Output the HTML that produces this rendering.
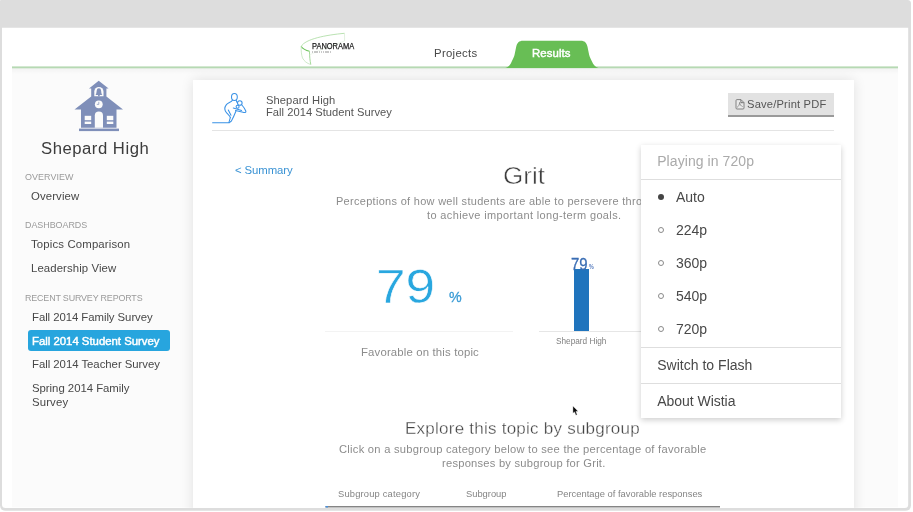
<!DOCTYPE html>
<html><head><meta charset="utf-8"><title>Panorama</title>
<style>
html,body{margin:0;padding:0;background:#fff;}
body{width:913px;height:512px;overflow:hidden;position:relative;font-family:"Liberation Sans",sans-serif;}
.abs{position:absolute;}
.t{position:absolute;white-space:nowrap;font-family:"Liberation Sans",sans-serif;}
#frame{left:0;top:0;width:910px;height:510px;background:#dcdcdc;border-radius:5px 7px 6px 6px;}
#inner{left:2px;top:28px;width:906px;height:480px;background:#fff;border-radius:0 0 4px 4px;overflow:hidden;}
#page{left:12px;top:68px;width:886px;height:440px;background:#fbfbfb;}
#greenline{left:12px;top:66px;width:886px;height:2px;background:#b4d8b1;}
#card{left:181px;top:12px;width:661px;height:440px;background:#fff;box-shadow:0 0 12px rgba(0,0,0,.11);}
#hdiv{left:212px;top:130px;width:622px;height:1px;background:#e4e4e4;}
#btn{left:728px;top:93px;width:106px;height:22px;background:#e2e2e2;border-bottom:2px solid #9a9a9a;}
#pill{left:28px;top:330px;width:142px;height:20.5px;background:#27a5de;border-radius:3px;}
#line1{left:325px;top:331px;width:188px;height:1px;background:#f3f3f3;}
#line2{left:539px;top:331px;width:110px;height:1px;background:#e6e6e6;}
#bar{left:574px;top:269px;width:15px;height:62px;background:#1f74bd;}
#tline{left:325.5px;top:505px;width:394.5px;height:1.5px;background:#8f8f8f;}
#menu{left:641px;top:145px;width:200px;height:273px;background:#fff;box-shadow:0 2px 6px rgba(0,0,0,.2);}
.mdiv{left:641px;width:200px;height:1px;background:#dedede;}
.dot{width:6px;height:6px;border-radius:50%;left:658px;box-sizing:border-box;}
.dot.f{background:#444;}
.dot.o{border:1px solid #8a8a8a;background:#fff;}
</style></head>
<body>
<svg class="abs" style="left:0;top:0" width="913" height="512" viewBox="0 0 913 512">
<path d="M1 0 L907.5 0 Q911 0 911 3.5 L911 505.2 Q911 510.7 905.5 510.7 L5.5 510.7 Q0 510.7 0 505.2 L0 1 Q0 0 1 0 Z" fill="#dddddd"/>
<path d="M2 27.7 L908.2 27.7 L908.2 504.5 Q908.2 508 904.7 508 L5.5 508 Q2 508 2 504.5 Z" fill="#ffffff"/>
<rect x="12" y="68" width="886" height="439.3" fill="#fbfbfb"/>
<defs><linearGradient id="gs" x1="0" y1="0" x2="0" y2="1"><stop offset="0" stop-color="#000" stop-opacity="0.035"/><stop offset="1" stop-color="#000" stop-opacity="0"/></linearGradient></defs><rect x="12" y="68" width="886" height="6" fill="url(#gs)"/><rect x="12" y="66.4" width="886" height="1.9" fill="#b6d9b3"/>
</svg>

<!-- results tab -->
<svg class="abs" style="left:505px;top:38px" width="96" height="31" viewBox="0 0 96 31">
<path d="M0.3 29.9 C3.5 29.3 5.5 26.5 6.6 23.8 C8 20.5 9 19 9.5 17 C10.2 14 10.6 11.5 11.2 8.8 C12 4.8 14 2.7 18 2.7 L75.7 2.7 C79.7 2.7 81.7 4.8 82.5 8.8 C83.1 11.5 83.5 14 84.2 17 C84.7 19 85.7 20.5 87.1 23.8 C88.2 26.5 90.2 29.3 93.4 29.9 Z" fill="#68be55"/>
</svg>

<!-- logo -->
<svg class="abs" style="left:296px;top:30px" width="56" height="38" viewBox="0 0 56 38">
<path d="M5.2 16.5 C9 9 30 5 48.5 3.3" fill="none" stroke="#9cd590" stroke-width="0.7"/>
<path d="M48.5 3.3 L48.6 11" fill="none" stroke="#cfe8c9" stroke-width="0.6"/>
<path d="M5.2 16.5 C7 19 10 20.5 13.5 21.3" fill="none" stroke="#6cc35a" stroke-width="1.1"/>
<path d="M13.5 21.3 C13.5 26 14 31 14.8 34.5" fill="none" stroke="#8ccf7e" stroke-width="0.8"/>
<path d="M5.2 16.5 C5 21 5.5 25 6.5 28 C8 31 11 33.5 14.8 34.5" fill="none" stroke="#b9dfb1" stroke-width="0.7"/>
<path d="M13.5 25 C20 21.5 34 16 48.6 11" fill="none" stroke="#e3f1df" stroke-width="0.6"/>
</svg>
<div class="abs" style="left:312px;top:51px;width:20px;height:1.6px;background:repeating-linear-gradient(90deg,#bbb 0 1.4px,#fff 1.4px 2.2px);opacity:.8"></div>

<!-- school icon -->
<svg class="abs" style="left:70px;top:76px" width="58" height="58" viewBox="70 76 58 58">
<g fill="#7f8fb9">
<path d="M98.7 80.7 L108.6 88.4 L106.4 88.4 L106.4 96.6 L123 109.5 L116.5 109.5 L116.5 127.7 L81 127.7 L81 109.5 L74.5 109.5 L91.2 96.6 L91.2 88.4 L89 88.4 Z"/>
<rect x="79" y="128.6" width="40" height="2.5"/>
</g>
<g fill="#fbfbfb">
<path d="M94.3 96.2 L94.3 91.6 A4.6 4.6 0 0 1 103.5 91.6 L103.5 96.2 Z"/>
<circle cx="98.8" cy="104.3" r="3.9"/>
<path d="M94.8 127.7 L94.8 115.5 A4.1 4.1 0 0 1 103 115.5 L103 127.7 Z"/>
<rect x="84.7" y="115.8" width="6.5" height="4.4"/>
<rect x="84.7" y="121.6" width="6.5" height="2.4"/>
<rect x="106.8" y="115.8" width="6.5" height="4.4"/>
<rect x="106.8" y="121.6" width="6.5" height="2.4"/>
</g>
<g fill="#7f8fb9">
<path d="M95.5 94.9 C96.6 94 96.4 92 96.8 90.3 A2.1 2.1 0 0 1 101 90.3 C101.4 92 101.2 94 102.3 94.9 Z"/>
<circle cx="98.9" cy="95.5" r="0.9"/>
</g>
<path d="M98.8 101.8 L98.8 104.4 L96.8 104.4" fill="none" stroke="#7f8fb9" stroke-width="0.7"/>
</svg>

<div id="pill" class="abs"></div>

<div class="abs" style="left:12px;top:68px;width:886px;height:439.5px;overflow:hidden;"><div id="card" class="abs"></div></div>
<div id="hdiv" class="abs"></div>
<div id="btn" class="abs"></div>

<!-- pdf icon -->
<svg class="abs" style="left:734px;top:98px" width="12" height="13" viewBox="0 0 12 13">
<path d="M3 1.6 L7 1.6 L10 4.6 L10 10 Q10 11 9 11 L3 11 Q2 11 2 10 L2 2.6 Q2 1.6 3 1.6 Z" fill="#e9e9e9" stroke="#777" stroke-width="0.9" stroke-linejoin="round"/>
<path d="M6.9 1.8 L6.9 4.7 L9.8 4.7" fill="none" stroke="#666" stroke-width="0.9"/>
<path d="M3.1 9.4 C4.6 8.3 5.6 6.6 5.6 4.4 C5.9 6.6 6.8 8 8.7 8.6" fill="none" stroke="#777" stroke-width="0.7"/>
</svg>

<!-- survey icon (figure) -->
<svg class="abs" style="left:210px;top:90px" width="40" height="36" viewBox="210 90 40 36">
<g fill="none" stroke="#3a92e6" stroke-width="1.05" stroke-linecap="round" stroke-linejoin="round">
<path d="M212.6 122.8 L228.8 122.8 L230.3 117.6"/>
<ellipse cx="234.4" cy="97" rx="2.9" ry="3.5"/>
<path d="M232.4 100.2 C231.5 102.2 228 102.6 226.4 104.6 C224.4 107.2 224.6 110.6 226.6 112.9 C228 114.5 230.4 115.8 230.3 117.6"/>
<path d="M228.3 110 L231 115.3"/>
<path d="M236.3 100.2 C236.4 101.4 236.8 102.2 237.4 102.8"/>
<circle cx="239.8" cy="103" r="2.3"/>
<circle cx="237.6" cy="106.7" r="1.5"/>
<path d="M241.9 105 C243.5 106.8 245 109 245.9 111.2 C246 112.6 244.6 112.8 243 112.3 L235.5 110.6"/>
<path d="M233.3 108 L241.6 110.4"/>
<path d="M236 111 C234.6 114.5 233 118.2 231.4 121 L229.4 122.6"/>
</g>
</svg>

<div id="line1" class="abs"></div>
<div id="line2" class="abs"></div>
<div id="bar" class="abs"></div>
<svg class="abs" style="left:320px;top:500px" width="410" height="10" viewBox="320 500 410 10"><rect x="325.5" y="506" width="394.5" height="1.5" fill="#858585"/><rect x="325.5" y="506" width="2.5" height="1.5" fill="#4a90d9"/></svg>

<div id="tl" style="position:absolute;left:0;top:0;width:913px;height:512px;will-change:transform;">
<span id="t0" class="t" style="left:312.00px;top:40.58px;font-size:9px;line-height:11px;color:#1a1a1a;font-weight:400;-webkit-text-stroke:0.25px #1a1a1a;transform-origin:0 50%;transform:scaleX(0.8300);">PANORAMA</span>
<span id="t1" class="t" style="left:434.10px;top:47.32px;font-size:10.9px;line-height:13px;color:#484848;letter-spacing:0.285px;transform-origin:0 50%;transform:scaleX(1.0450);">Projects</span>
<span id="t2" class="t" style="left:532.40px;top:47.32px;font-size:10.9px;line-height:13px;color:#fff;letter-spacing:0.086px;-webkit-text-stroke:0.45px #fff;transform-origin:0 50%;transform:scaleX(1.0450);">Results</span>
<span id="t3" class="t" style="left:41.25px;top:138.89px;font-size:15.6px;line-height:19px;color:#3c3c3c;letter-spacing:0.484px;transform-origin:0 50%;transform:scaleX(1.0700);">Shepard High</span>
<span id="t4" class="t" style="left:25.00px;top:171.82px;font-size:8.6px;line-height:10px;color:#9a9a9a;letter-spacing:0.052px;transform-origin:0 50%;transform:scaleX(1.0400);">OVERVIEW</span>
<span id="t5" class="t" style="left:31.20px;top:189.72px;font-size:10.9px;line-height:13px;color:#484848;letter-spacing:0.105px;transform-origin:0 50%;transform:scaleX(1.0450);">Overview</span>
<span id="t6" class="t" style="left:25.00px;top:220.02px;font-size:8.6px;line-height:10px;color:#9a9a9a;letter-spacing:-0.040px;transform-origin:0 50%;transform:scaleX(1.0400);">DASHBOARDS</span>
<span id="t7" class="t" style="left:31.20px;top:237.72px;font-size:10.9px;line-height:13px;color:#484848;letter-spacing:0.139px;transform-origin:0 50%;transform:scaleX(1.0450);">Topics Comparison</span>
<span id="t8" class="t" style="left:31.00px;top:261.72px;font-size:10.9px;line-height:13px;color:#484848;letter-spacing:0.089px;transform-origin:0 50%;transform:scaleX(1.0450);">Leadership View</span>
<span id="t9" class="t" style="left:25.00px;top:292.82px;font-size:8.6px;line-height:10px;color:#9a9a9a;letter-spacing:-0.165px;transform-origin:0 50%;transform:scaleX(1.0400);">RECENT SURVEY REPORTS</span>
<span id="t10" class="t" style="left:31.50px;top:310.62px;font-size:10.9px;line-height:13px;color:#484848;letter-spacing:-0.060px;transform-origin:0 50%;transform:scaleX(1.0450);">Fall 2014 Family Survey</span>
<span id="t11" class="t" style="left:31.50px;top:335.42px;font-size:10.9px;line-height:13px;color:#fff;letter-spacing:-0.012px;-webkit-text-stroke:0.45px #fff;transform-origin:0 50%;transform:scaleX(1.0450);">Fall 2014 Student Survey</span>
<span id="t12" class="t" style="left:31.50px;top:358.02px;font-size:10.9px;line-height:13px;color:#484848;letter-spacing:-0.035px;transform-origin:0 50%;transform:scaleX(1.0450);">Fall 2014 Teacher Survey</span>
<span id="t13" class="t" style="left:31.50px;top:381.72px;font-size:10.9px;line-height:13px;color:#484848;letter-spacing:-0.031px;transform-origin:0 50%;transform:scaleX(1.0450);">Spring 2014 Family</span>
<span id="t14" class="t" style="left:31.50px;top:396.42px;font-size:10.9px;line-height:13px;color:#484848;letter-spacing:0.128px;transform-origin:0 50%;transform:scaleX(1.0450);">Survey</span>
<span id="t15" class="t" style="left:265.60px;top:93.59px;font-size:10.7px;line-height:13px;color:#555;letter-spacing:0.078px;transform-origin:0 50%;transform:scaleX(1.0450);">Shepard High</span>
<span id="t16" class="t" style="left:265.60px;top:105.79px;font-size:10.7px;line-height:13px;color:#555;letter-spacing:0.020px;transform-origin:0 50%;transform:scaleX(1.0450);">Fall 2014 Student Survey</span>
<span id="t17" class="t" style="left:747.20px;top:97.79px;font-size:10.7px;line-height:13px;color:#555;letter-spacing:0.171px;transform-origin:0 50%;transform:scaleX(1.0450);">Save/Print PDF</span>
<span id="t18" class="t" style="left:235.30px;top:164.42px;font-size:10.9px;line-height:13px;color:#3b93d4;letter-spacing:-0.108px;transform-origin:0 50%;transform:scaleX(1.0450);">&lt; Summary</span>
<span id="t19" class="t" style="left:502.60px;top:160.68px;font-size:24px;line-height:29px;color:#3d3d3d;-webkit-text-stroke:0.5px #fff;transform-origin:0 50%;transform:scaleX(1.0861);">Grit</span>
<span id="t20" class="t" style="left:336.30px;top:195.06px;font-size:10.5px;line-height:13px;color:#8c8c8c;letter-spacing:0.290px;transform-origin:0 50%;transform:scaleX(1.0450);">Perceptions of how well students are able to persevere through setbacks</span>
<span id="t21" class="t" style="left:426.60px;top:209.06px;font-size:10.5px;line-height:13px;color:#8c8c8c;letter-spacing:0.360px;transform-origin:0 50%;transform:scaleX(1.0450);">to achieve important long-term goals.</span>
<span id="t22" class="t" style="left:375.90px;top:257.64px;font-size:47.5px;line-height:57px;color:#29a7df;-webkit-text-stroke:0.55px #fff;transform-origin:0 50%;transform:scaleX(1.1203);">79</span>
<span id="t23" class="t" style="left:449.00px;top:287.43px;font-size:15.5px;line-height:19px;color:#3a9bd5;-webkit-text-stroke:0.3px #3a9bd5;transform-origin:0 50%;transform:scaleX(0.92);">%</span>
<span id="t24" class="t" style="left:360.70px;top:345.72px;font-size:10.9px;line-height:13px;color:#8c8c8c;letter-spacing:0.143px;transform-origin:0 50%;transform:scaleX(1.0450);">Favorable on this topic</span>
<span id="t25" class="t" style="left:571.30px;top:253.88px;font-size:16.5px;line-height:20px;color:#3a6db4;-webkit-text-stroke:0.3px #3a6db4;transform-origin:0 50%;transform:scaleX(0.9042);">79</span>
<span id="t26" class="t" style="left:588.60px;top:263.02px;font-size:6.3px;line-height:8px;color:#5a7fc0;font-weight:700;transform-origin:0 50%;transform:scaleX(0.85);">%</span>
<span id="t27" class="t" style="left:556.00px;top:335.79px;font-size:8.7px;line-height:10px;color:#808080;transform-origin:0 50%;transform:scaleX(0.9484);">Shepard High</span>
<span id="t28" class="t" style="left:405.00px;top:418.89px;font-size:16.2px;line-height:19px;color:#444;letter-spacing:0.230px;-webkit-text-stroke:0.3px #fff;transform-origin:0 50%;transform:scaleX(1.0500);">Explore this topic by subgroup</span>
<span id="t29" class="t" style="left:339.30px;top:442.79px;font-size:10.7px;line-height:13px;color:#8c8c8c;letter-spacing:0.247px;transform-origin:0 50%;transform:scaleX(1.0450);">Click on a subgroup category below to see the percentage of favorable</span>
<span id="t30" class="t" style="left:441.90px;top:456.79px;font-size:10.7px;line-height:13px;color:#8c8c8c;letter-spacing:0.219px;transform-origin:0 50%;transform:scaleX(1.0450);">responses by subgroup for Grit.</span>
<span id="t31" class="t" style="left:338.40px;top:488.98px;font-size:9.0px;line-height:11px;color:#848484;letter-spacing:0.168px;transform-origin:0 50%;transform:scaleX(1.0400);">Subgroup category</span>
<span id="t32" class="t" style="left:466.30px;top:488.98px;font-size:9.0px;line-height:11px;color:#848484;letter-spacing:-0.015px;transform-origin:0 50%;transform:scaleX(1.0400);">Subgroup</span>
<span id="t33" class="t" style="left:557.40px;top:488.98px;font-size:9.0px;line-height:11px;color:#848484;letter-spacing:0.004px;transform-origin:0 50%;transform:scaleX(1.0400);">Percentage of favorable responses</span>
</div>

<!-- cursor -->
<svg class="abs" style="left:571px;top:403px" width="10" height="14" viewBox="0 0 10 14">
<path d="M1.9 3 L1.9 10.3 L3.5 8.9 L4.9 12.2 L6.2 11.7 L4.9 8.4 L7.1 8.2 Z" fill="#0a0a0a" stroke="#fff" stroke-width="0.4"/>
</svg>

<!-- menu -->
<div id="menu" class="abs"></div>
<div class="abs mdiv" style="top:179px"></div>
<div class="abs mdiv" style="top:347px"></div>
<div class="abs mdiv" style="top:383px"></div>
<div class="abs dot f" style="top:194px"></div>
<div class="abs dot o" style="top:227.2px"></div>
<div class="abs dot o" style="top:260.2px"></div>
<div class="abs dot o" style="top:293.2px"></div>
<div class="abs dot o" style="top:326.2px"></div>
<div id="ml" style="position:absolute;left:0;top:0;width:913px;height:512px;will-change:transform;">
<span id="m0" class="t" style="left:657.20px;top:152.65px;font-size:14px;line-height:17px;color:#aaa;letter-spacing:0.075px;">Playing in 720p</span>
<span id="m1" class="t" style="left:676.00px;top:188.65px;font-size:14px;line-height:17px;color:#484848;letter-spacing:-0.037px;">Auto</span>
<span id="m2" class="t" style="left:676.00px;top:221.65px;font-size:14px;line-height:17px;color:#484848;">224p</span>
<span id="m3" class="t" style="left:676.00px;top:254.65px;font-size:14px;line-height:17px;color:#484848;">360p</span>
<span id="m4" class="t" style="left:676.00px;top:287.65px;font-size:14px;line-height:17px;color:#484848;">540p</span>
<span id="m5" class="t" style="left:676.00px;top:320.65px;font-size:14px;line-height:17px;color:#484848;">720p</span>
<span id="m6" class="t" style="left:657.20px;top:356.65px;font-size:14px;line-height:17px;color:#484848;letter-spacing:0.019px;">Switch to Flash</span>
<span id="m7" class="t" style="left:657.20px;top:392.65px;font-size:14px;line-height:17px;color:#484848;letter-spacing:-0.027px;">About Wistia</span>
</div>
</body></html>
